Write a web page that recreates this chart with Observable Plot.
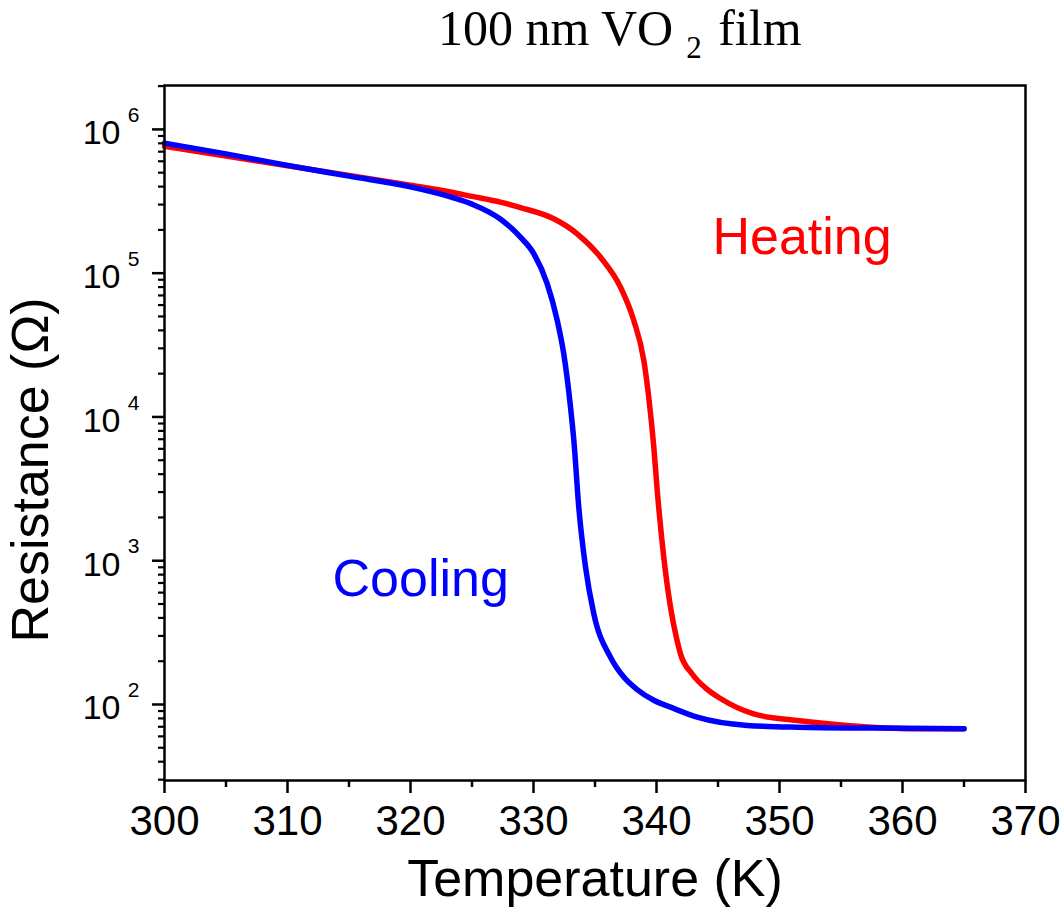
<!DOCTYPE html>
<html>
<head>
<meta charset="utf-8">
<script src="https://cdn.jsdelivr.net/npm/d3@7"></script>
<script src="https://cdn.jsdelivr.net/npm/@observablehq/plot@0.6"></script>
<style>
  html, body { margin: 0; padding: 0; background: #fff; }
  #wrap { position: relative; width: 1063px; height: 907px; }
  #title { position: absolute; left: 438px; top: 3px; font-family: "Liberation Serif", "Times New Roman", serif;
           font-size: 50px; line-height: 50px; color: #000; white-space: nowrap; }
  #title .sub { font-size: 31px; position: relative; top: 13px; margin-left: 13px; margin-right: 4px; }
</style>
</head>
<body>
<div id="wrap">
  <div id="chart"></div>
  <div id="title">100 nm VO<span class="sub">2</span> film</div>
</div>
<script>
// Heating curve (temperature K, resistance Ω)
const heatT = [300, 305, 310, 315, 320, 323.25, 325, 327.3, 328.94, 331.65, 333.55, 335.45, 337.07, 338.15, 338.97, 339.37, 339.78, 340.06, 340.59, 341.14, 341.67, 341.95, 342.9, 344.0, 345.2, 347.9, 351.44, 355.5, 360.9, 365];
const heatR = [7.62e5, 6.53e5, 5.58e5, 4.79e5, 4.09e5, 3.67e5, 3.42e5, 3.12e5, 2.86e5, 2.39e5, 1.88e5, 1.29e5, 8.0e4, 4.69e4, 2.47e4, 1.37e4, 6.17e3, 3.08e3, 1.06e3, 475, 279, 225, 163, 130, 110, 86, 77.4, 71.5, 67.8, 67.8];
// Cooling curve
const coolT = [300, 305, 310, 315, 320, 323.25, 325, 327.3, 328.94, 330.02, 331.11, 331.93, 332.46, 333.01, 333.28, 333.68, 334.23, 334.9, 336.26, 337.34, 338.43, 339.78, 341.14, 343.31, 347.37, 351.44, 358, 365];
const coolR = [8.03e5, 6.76e5, 5.62e5, 4.73e5, 3.98e5, 3.39e5, 3.02e5, 2.38e5, 1.78e5, 1.37e5, 8.45e4, 4.69e4, 2.75e4, 1.17e4, 6.87e3, 2.36e3, 902, 428, 213, 155, 127, 107, 95.8, 81.6, 71.5, 69.5, 68.5, 67.8];

// Axis ticks
const xMajor = [300, 310, 320, 330, 340, 350, 360, 370];
const xMinor = [305, 315, 325, 335, 345, 355, 365];
const yDecades = [1e2, 1e3, 1e4, 1e5, 1e6];
const yMinor = [];
for (let e = 1; e <= 6; e++) for (let m = 2; m <= 9; m++) { const v = m * Math.pow(10, e); if (v >= 30 && v <= 2e6) yMinor.push(v); }

// Annotations
const annT = [344.55, 313.66];
const annR = [1.77e5, 745];
const annText = ["Heating", "Cooling"];
const annColor = ["#ff0000", "#0000ff"];

const heating = heatT.map((t, i) => ({T: t, R: heatR[i]}));
const cooling = coolT.map((t, i) => ({T: t, R: coolR[i]}));
const ann = annT.map((t, i) => ({T: t, R: annR[i], text: annText[i], color: annColor[i]}));

const chart = Plot.plot({
  width: 1063,
  height: 907,
  marginLeft: 164,
  marginRight: 38,
  marginTop: 85,
  marginBottom: 127,
  style: {fontFamily: "'Liberation Sans', Arial, sans-serif", background: "#fff", color: "#000"},
  x: {domain: [300, 370]},
  y: {type: "log", domain: [29.6, 2.02e6]},
  marks: [
    Plot.line(heating, {x: "T", y: "R", stroke: "#ff0000", strokeWidth: 5.5, curve: "monotone-x"}),
    Plot.line(cooling, {x: "T", y: "R", stroke: "#0000ff", strokeWidth: 5.5, curve: "monotone-x"}),
    Plot.frame({stroke: "#000", strokeWidth: 2.5}),
    // x axis
    Plot.axisX({anchor: "bottom", ticks: xMajor, tickSize: 13, tickPadding: 12, strokeWidth: 2.5, fontSize: 42, label: null, tickFormat: d => String(d)}),
    Plot.axisX({anchor: "bottom", ticks: xMinor, tickSize: 7, strokeWidth: 2.5, label: null, tickFormat: () => ""}),
    // y axis
    Plot.axisY({anchor: "left", ticks: yDecades, tickSize: 12, strokeWidth: 2.5, label: null, tickFormat: () => ""}),
    Plot.axisY({anchor: "left", ticks: yMinor, tickSize: 6, strokeWidth: 2.2, label: null, tickFormat: () => ""}),
    Plot.axisY({anchor: "left", ticks: yDecades, tickSize: 0, tickPadding: 44, fontSize: 34, dy: 4, label: null, tickFormat: () => "10"}),
    Plot.axisY({anchor: "left", ticks: yDecades, tickSize: 0, tickPadding: 25, fontSize: 21, dy: -14, label: null, tickFormat: d => String(Math.round(Math.log10(d)))}),
    // axis labels
    Plot.text(["Temperature (K)"], {frameAnchor: "bottom", lineAnchor: "middle", textAnchor: "middle", dy: 99, fontSize: 52, fill: "#000"}),
    Plot.text(["Resistance (Ω)"], {frameAnchor: "left", lineAnchor: "middle", textAnchor: "middle", rotate: -90, dx: -133, dy: 37, fontSize: 52, fill: "#000"}),
    // annotations
    Plot.text(ann, {x: "T", y: "R", text: "text", fill: "color", fontSize: 52, textAnchor: "start"})
  ]
});
document.getElementById("chart").appendChild(chart);
</script>
</body>
</html>
